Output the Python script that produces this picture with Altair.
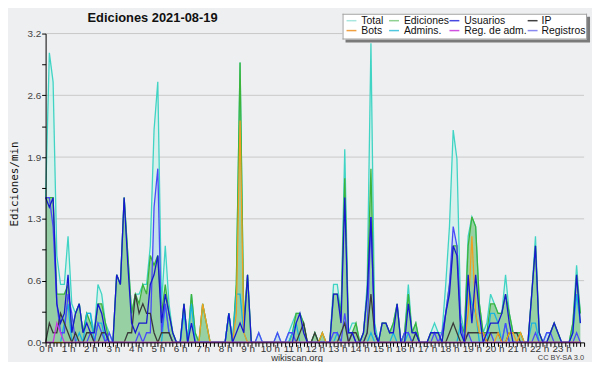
import altair as alt
import pandas as pd

# 10-minute bins, 6 per hour (values in edits/min)
series_names = ["Total", "Ediciones", "Usuarios", "IP", "Bots", "Admins.", "Reg. de adm.", "Registros"]
series_colors = ["#3fd4c4", "#3cb43c", "#1818d0", "#3a3a3a", "#f0a020", "#18b4e0", "#c838e0", "#4a4af8"]
legend_colors = ["#a8e6e0", "#90d090", "#4848e0", "#404040", "#f0a040", "#50c8e0", "#d050e0", "#8888f0"]

total = [
    1.5, 3.0, 2.7, 0.9, 0.6, 0.6,
    1.1, 0.4, 0.3, 0.4, 0.1, 0.3,
    0.3, 0.1, 0.6, 0.5, 0.2, 0.1,
    0.0, 0.7, 0.6, 1.5, 0.9, 0.3,
    0.5, 0.5, 0.6, 0.6, 1.0, 2.2,
    2.7, 0.4, 1.0, 0.4, 0.1, 0.0,
    0.0, 0.4, 0.0, 0.5, 0.1, 0.0,
    0.4, 0.2, 0.0, 0.0, 0.0, 0.0,
    0.0, 0.3, 0.0, 0.6, 2.9, 0.2,
    0.7, 0.0, 0.0, 0.1, 0.0, 0.0,
    0.0, 0.0, 0.1, 0.0, 0.0, 0.1,
    0.2, 0.3, 0.3, 0.2, 0.0, 0.0,
    0.1, 0.0, 0.1, 0.0, 0.0, 0.6,
    0.6, 0.3, 2.0, 0.1, 0.2, 0.2,
    0.0, 0.1, 0.6, 3.1, 0.2, 0.0,
    0.2, 0.2, 0.1, 0.2, 0.4, 0.0,
    0.1, 0.6, 0.1, 0.2, 0.0, 0.0,
    0.0, 0.1, 0.2, 0.1, 0.1, 0.6,
    1.2, 2.2, 1.9, 0.3, 0.1, 1.1,
    1.3, 1.2, 0.4, 0.1, 0.2, 0.5,
    0.4, 0.3, 0.3, 0.7, 0.3, 0.1,
    0.1, 0.1, 0.0, 0.0, 0.5, 1.1,
    0.1, 0.0, 0.1, 0.1, 0.2, 0.1,
    0.0, 0.0, 0.0, 0.2, 0.8, 0.3,
]
ediciones = [
    1.5, 1.5, 1.5, 0.5, 0.5, 0.5,
    0.6, 0.1, 0.3, 0.4, 0.1, 0.3,
    0.2, 0.1, 0.4, 0.4, 0.2, 0.0,
    0.0, 0.7, 0.6, 1.5, 0.9, 0.3,
    0.5, 0.4, 0.6, 0.5, 0.9, 0.8,
    0.9, 0.3, 0.6, 0.3, 0.1, 0.0,
    0.0, 0.4, 0.0, 0.5, 0.1, 0.0,
    0.4, 0.2, 0.0, 0.0, 0.0, 0.0,
    0.0, 0.3, 0.0, 0.6, 2.9, 0.2,
    0.7, 0.0, 0.0, 0.0, 0.0, 0.0,
    0.0, 0.0, 0.0, 0.0, 0.0, 0.0,
    0.1, 0.3, 0.3, 0.2, 0.0, 0.0,
    0.1, 0.0, 0.1, 0.0, 0.0, 0.5,
    0.5, 0.3, 1.7, 0.1, 0.1, 0.2,
    0.0, 0.1, 0.5, 1.8, 0.1, 0.0,
    0.2, 0.2, 0.1, 0.2, 0.4, 0.0,
    0.1, 0.5, 0.1, 0.2, 0.0, 0.0,
    0.0, 0.1, 0.1, 0.1, 0.0, 0.3,
    0.6, 1.0, 1.0, 0.2, 0.1, 1.0,
    1.3, 1.2, 0.4, 0.1, 0.1, 0.4,
    0.4, 0.3, 0.3, 0.5, 0.3, 0.1,
    0.1, 0.1, 0.0, 0.0, 0.5, 1.0,
    0.1, 0.0, 0.0, 0.1, 0.2, 0.1,
    0.0, 0.0, 0.0, 0.2, 0.7, 0.3,
]
usuarios = [
    1.5, 1.4, 1.5, 0.4, 0.2, 0.3,
    0.7, 0.1, 0.3, 0.4, 0.1, 0.2,
    0.1, 0.1, 0.4, 0.3, 0.1, 0.0,
    0.0, 0.7, 0.6, 1.5, 0.8, 0.2,
    0.1, 0.2, 0.2, 0.2, 0.6, 0.7,
    0.9, 0.2, 0.5, 0.3, 0.1, 0.0,
    0.0, 0.4, 0.0, 0.2, 0.0, 0.0,
    0.0, 0.0, 0.0, 0.0, 0.0, 0.0,
    0.0, 0.3, 0.0, 0.1, 0.2, 0.1,
    0.7, 0.0, 0.0, 0.0, 0.0, 0.0,
    0.0, 0.0, 0.0, 0.0, 0.0, 0.0,
    0.0, 0.2, 0.3, 0.1, 0.0, 0.0,
    0.0, 0.0, 0.0, 0.0, 0.0, 0.5,
    0.5, 0.2, 1.5, 0.1, 0.1, 0.0,
    0.0, 0.1, 0.5, 1.3, 0.1, 0.0,
    0.2, 0.2, 0.1, 0.1, 0.4, 0.0,
    0.0, 0.4, 0.1, 0.1, 0.0, 0.0,
    0.0, 0.1, 0.1, 0.1, 0.0, 0.3,
    0.5, 1.0, 0.9, 0.1, 0.0, 0.7,
    0.2, 0.7, 0.3, 0.0, 0.1, 0.2,
    0.2, 0.2, 0.3, 0.5, 0.2, 0.0,
    0.0, 0.0, 0.0, 0.0, 0.5, 1.0,
    0.1, 0.0, 0.0, 0.1, 0.2, 0.1,
    0.0, 0.0, 0.0, 0.1, 0.7, 0.2,
]
ip = [
    0.0, 0.2, 0.1, 0.1, 0.3, 0.2,
    0.1, 0.0, 0.1, 0.0, 0.0, 0.1,
    0.1, 0.0, 0.0, 0.1, 0.1, 0.0,
    0.0, 0.0, 0.0, 0.0, 0.1, 0.1,
    0.5, 0.3, 0.4, 0.3, 0.3, 0.1,
    0.0, 0.1, 0.1, 0.1, 0.0, 0.0,
    0.0, 0.0, 0.0, 0.0, 0.0, 0.0,
    0.0, 0.0, 0.0, 0.0, 0.0, 0.0,
    0.0, 0.0, 0.0, 0.0, 0.0, 0.0,
    0.0, 0.0, 0.0, 0.0, 0.0, 0.0,
    0.0, 0.0, 0.0, 0.0, 0.0, 0.0,
    0.0, 0.0, 0.1, 0.2, 0.0, 0.0,
    0.1, 0.0, 0.0, 0.0, 0.0, 0.0,
    0.0, 0.1, 0.2, 0.0, 0.1, 0.1,
    0.0, 0.0, 0.1, 0.5, 0.1, 0.0,
    0.0, 0.0, 0.0, 0.0, 0.0, 0.0,
    0.0, 0.0, 0.0, 0.1, 0.0, 0.0,
    0.0, 0.0, 0.0, 0.0, 0.0, 0.0,
    0.1, 0.2, 0.1, 0.0, 0.0, 0.1,
    0.1, 0.1, 0.1, 0.1, 0.0, 0.1,
    0.1, 0.1, 0.0, 0.0, 0.1, 0.1,
    0.1, 0.0, 0.0, 0.0, 0.0, 0.0,
    0.0, 0.0, 0.0, 0.0, 0.0, 0.0,
    0.0, 0.0, 0.0, 0.0, 0.0, 0.0,
]
bots = [
    0.0, 0.0, 0.0, 0.0, 0.0, 0.0,
    0.0, 0.0, 0.0, 0.0, 0.0, 0.0,
    0.0, 0.0, 0.0, 0.0, 0.0, 0.0,
    0.0, 0.0, 0.0, 0.0, 0.0, 0.0,
    0.0, 0.0, 0.0, 0.0, 0.0, 0.0,
    0.0, 0.0, 0.0, 0.0, 0.0, 0.0,
    0.0, 0.0, 0.0, 0.0, 0.0, 0.0,
    0.4, 0.2, 0.0, 0.0, 0.0, 0.0,
    0.0, 0.0, 0.0, 0.3, 2.3, 0.1,
    0.0, 0.0, 0.0, 0.0, 0.0, 0.0,
    0.0, 0.0, 0.0, 0.0, 0.0, 0.0,
    0.0, 0.0, 0.0, 0.0, 0.0, 0.0,
    0.0, 0.0, 0.1, 0.0, 0.0, 0.0,
    0.0, 0.0, 0.0, 0.0, 0.0, 0.0,
    0.0, 0.0, 0.0, 0.0, 0.0, 0.0,
    0.0, 0.0, 0.0, 0.0, 0.0, 0.0,
    0.0, 0.0, 0.0, 0.0, 0.0, 0.0,
    0.0, 0.0, 0.0, 0.0, 0.0, 0.0,
    0.0, 0.0, 0.0, 0.0, 0.0, 0.3,
    1.1, 0.3, 0.1, 0.1, 0.0, 0.0,
    0.0, 0.1, 0.0, 0.0, 0.1, 0.1,
    0.0, 0.1, 0.0, 0.0, 0.0, 0.0,
    0.0, 0.0, 0.0, 0.0, 0.0, 0.0,
    0.0, 0.0, 0.0, 0.0, 0.0, 0.0,
]
admins = [
    0.0, 0.0, 0.0, 0.0, 0.0, 0.2,
    0.4, 0.0, 0.0, 0.1, 0.0, 0.3,
    0.3, 0.0, 0.2, 0.2, 0.0, 0.0,
    0.0, 0.0, 0.0, 0.0, 0.0, 0.0,
    0.0, 0.0, 0.0, 0.0, 0.0, 0.0,
    0.0, 0.0, 0.4, 0.1, 0.0, 0.0,
    0.0, 0.3, 0.0, 0.4, 0.0, 0.0,
    0.0, 0.0, 0.0, 0.0, 0.0, 0.0,
    0.0, 0.3, 0.0, 0.5, 0.5, 0.1,
    0.0, 0.0, 0.0, 0.0, 0.0, 0.0,
    0.0, 0.0, 0.0, 0.0, 0.0, 0.0,
    0.1, 0.2, 0.0, 0.0, 0.0, 0.0,
    0.0, 0.0, 0.0, 0.0, 0.0, 0.0,
    0.1, 0.0, 0.0, 0.0, 0.0, 0.0,
    0.0, 0.0, 0.0, 0.1, 0.0, 0.0,
    0.0, 0.0, 0.0, 0.1, 0.0, 0.0,
    0.0, 0.1, 0.0, 0.1, 0.0, 0.0,
    0.0, 0.0, 0.0, 0.0, 0.0, 0.0,
    0.0, 0.0, 0.0, 0.2, 0.0, 0.6,
    0.4, 0.3, 0.0, 0.0, 0.0, 0.3,
    0.3, 0.2, 0.0, 0.2, 0.0, 0.0,
    0.0, 0.0, 0.0, 0.0, 0.2, 0.2,
    0.0, 0.0, 0.0, 0.0, 0.0, 0.0,
    0.0, 0.0, 0.0, 0.1, 0.5, 0.2,
]
reg_adm = [0.0] * 3 + [0.2, 0.1] + [0.0] * 139
registros = [
    1.5, 1.5, 1.2, 0.4, 0.1, 0.1,
    0.5, 0.3, 0.0, 0.0, 0.0, 0.0,
    0.1, 0.0, 0.2, 0.1, 0.0, 0.1,
    0.0, 0.0, 0.0, 0.0, 0.0, 0.0,
    0.0, 0.1, 0.0, 0.1, 0.1, 1.4,
    1.8, 0.1, 0.4, 0.1, 0.0, 0.0,
    0.0, 0.0, 0.0, 0.0, 0.0, 0.0,
    0.0, 0.0, 0.0, 0.0, 0.0, 0.0,
    0.0, 0.0, 0.0, 0.0, 0.0, 0.0,
    0.0, 0.0, 0.0, 0.1, 0.0, 0.0,
    0.0, 0.0, 0.1, 0.0, 0.0, 0.1,
    0.1, 0.0, 0.0, 0.0, 0.0, 0.0,
    0.0, 0.0, 0.0, 0.0, 0.0, 0.1,
    0.1, 0.0, 0.3, 0.0, 0.1, 0.0,
    0.0, 0.0, 0.1, 1.3, 0.1, 0.0,
    0.0, 0.0, 0.0, 0.0, 0.0, 0.0,
    0.1, 0.1, 0.0, 0.0, 0.0, 0.0,
    0.0, 0.0, 0.1, 0.0, 0.1, 0.3,
    0.6, 1.2, 1.0, 0.2, 0.0, 0.1,
    0.0, 0.0, 0.0, 0.0, 0.1, 0.1,
    0.0, 0.0, 0.0, 0.2, 0.0, 0.0,
    0.0, 0.0, 0.0, 0.0, 0.0, 0.1,
    0.0, 0.0, 0.1, 0.1, 0.0, 0.0,
    0.0, 0.0, 0.0, 0.0, 0.1, 0.0,
]

grid_values = [0.64, 1.28, 1.92, 2.56, 3.2]
y_ticks = [round(k * 0.32, 2) for k in range(11)]
x_ticks = [i / 6 for i in range(145)]

all_series = [total, ediciones, usuarios, ip, bots, admins, reg_adm, registros]
rows = []
for name, vals in zip(series_names, all_series):
    for i, v in enumerate(vals):
        rows.append({"serie": name, "hora": i / 6, "valor": v})
df = pd.DataFrame(rows)

LABEL_FONT = "Liberation Sans"

x_enc = alt.X(
    "hora:Q",
    scale=alt.Scale(domain=[0, 24], nice=False, zero=False),
    axis=alt.Axis(
        values=x_ticks,
        labelExpr="abs(datum.value - round(datum.value)) < 0.001 && datum.value < 23.5 ? round(datum.value) + ' h' : ''",
        grid=False, title=None, tickSize=4, tickColor="#000", domainColor="#000",
        labelFontSize=10, labelFont=LABEL_FONT, labelColor="#333", labelPadding=-3,
        labelOverlap=False, labelFlush=False, labelAngle=0, zindex=1,
    ),
)
y_enc = alt.Y(
    "valor:Q",
    scale=alt.Scale(domain=[0, 3.2], nice=False),
    axis=alt.Axis(
        values=y_ticks,
        labelExpr="abs(datum.value/0.64 - round(datum.value/0.64)) < 0.01 ? format(datum.value, '.1f') : ''",
        grid=False, title=None, tickSize=4, tickColor="#000", domainColor="#000",
        labelFontSize=10, labelFont=LABEL_FONT, labelColor="#444", labelPadding=1, zindex=1,
    ),
)

color_enc = alt.Color(
    "serie:N",
    scale=alt.Scale(domain=series_names, range=series_colors),
    legend=None,
)

base = alt.Chart(df)

grid = alt.Chart(pd.DataFrame({"valor": grid_values})).mark_rule(
    color="#c8c8c8", strokeWidth=1
).encode(y=y_enc)


def area(name, fill, opacity):
    return base.transform_filter(alt.datum.serie == name).mark_area(
        color=fill, opacity=opacity, interpolate="linear"
    ).encode(x=x_enc, y=y_enc)


def line(name, width=1.3):
    return base.transform_filter(alt.datum.serie == name).mark_line(
        strokeWidth=width, interpolate="linear"
    ).encode(x=x_enc, y=y_enc, color=color_enc)


one = pd.DataFrame({"a": [0]})


def hbar(x1, x2, yc, width, color):
    # a filled rectangle drawn as a thick horizontal rule (layout decoration)
    return alt.Chart(one).mark_rule(
        color=color, strokeWidth=width, strokeCap="butt"
    ).encode(x=alt.value(x1), x2=alt.value(x2), y=alt.value(yc))


def vbar(xc, y1, y2, width, color):
    return alt.Chart(one).mark_rule(
        color=color, strokeWidth=width, strokeCap="butt"
    ).encode(x=alt.value(xc), y=alt.value(y1), y2=alt.value(y2))


# legend box (plot-area pixel coordinates)
BX1, BX2, BY1, BY2 = 300, 547, -20, 6
legend_layers = [
    hbar(BX1 + 3, BX2 + 3, (BY1 + BY2) / 2 + 3, BY2 - BY1, "#7a7a7a"),
    hbar(BX1, BX2, (BY1 + BY2) / 2, BY2 - BY1, "#ffffff"),
    hbar(BX1, BX2, BY1 + 0.5, 1, "#a0a0a0"),
    hbar(BX1, BX2, BY2 - 0.5, 1, "#a0a0a0"),
    vbar(BX1 + 0.5, BY1, BY2, 1, "#a0a0a0"),
    vbar(BX2 - 0.5, BY1, BY2, 1, "#a0a0a0"),
]
swatch_x = [304, 347, 408, 487]
text_x = [319, 362, 423, 501]
row_y = [-13, -3]
for k, (name, col) in enumerate(zip(series_names, legend_colors)):
    r, c = divmod(k, 4)
    legend_layers.append(hbar(swatch_x[c], swatch_x[c] + 10, row_y[r], 1.5, col))
    legend_layers.append(
        alt.Chart(one).mark_text(
            text=name, font=LABEL_FONT, fontSize=10.5, color="#111",
            align="left", baseline="middle",
        ).encode(x=alt.value(text_x[c]), y=alt.value(row_y[r]))
    )

title = alt.Chart(one).mark_text(
    text="Ediciones  2021-08-19", font=LABEL_FONT, fontSize=13, fontWeight="bold",
    color="#111", align="center", baseline="middle",
).encode(x=alt.value(108), y=alt.value(-16))

ytitle = alt.Chart(one).mark_text(
    text="Ediciones/min", font="DejaVu Sans Mono", fontSize=11, angle=270,
    color="#111", align="center", baseline="middle",
).encode(x=alt.value(-31), y=alt.value(152))

footer = alt.Chart(one).mark_text(
    text="wikiscan.org", font=LABEL_FONT, fontSize=9.5, color="#333",
    align="center", baseline="middle",
).encode(x=alt.value(254), y=alt.value(328))

license_txt = alt.Chart(one).mark_text(
    text="CC BY-SA 3.0", font=LABEL_FONT, fontSize=7.5, color="#444",
    align="right", baseline="middle",
).encode(x=alt.value(544), y=alt.value(328))

chart = alt.layer(
    grid,
    area("Total", "#c8f0ea", 0.6),
    area("Registros", "#a0b8f0", 0.3),
    area("Ediciones", "#8ccb96", 0.85),
    line("Total"),
    line("Ediciones"),
    line("Admins."),
    line("Registros"),
    line("IP"),
    line("Bots"),
    line("Usuarios"),
    line("Reg. de adm."),
    *legend_layers,
    title,
    ytitle,
    footer,
    license_txt,
).properties(
    width=544, height=312,
    autosize=alt.AutoSizeParams(type="none"),
    padding={"left": 38, "top": 24, "right": 8, "bottom": 18},
    background="#eeeff0",
).configure_view(stroke=None, fill="#eeeff1")

chart.save("out.html", embed_options={"renderer": "svg", "actions": False})
